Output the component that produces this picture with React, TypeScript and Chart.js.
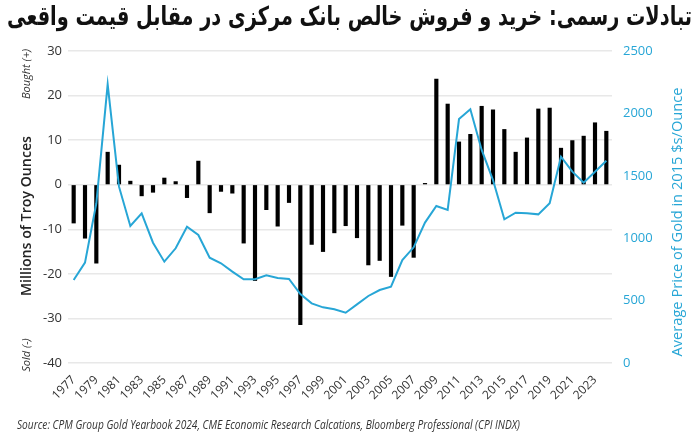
import React, { useEffect, useRef } from "react";
import { Chart, registerables } from "chart.js";

Chart.register(...registerables);

const TITLE = "تبادلات رسمی: خرید و فروش خالص بانک مرکزی در مقابل قیمت واقعی";
const SOURCE =
  "Source: CPM Group Gold Yearbook 2024, CME Economic Research Calcations, Bloomberg Professional (CPI INDX)";
const LEFT_TITLE = "Millions of Troy Ounces";
const RIGHT_TITLE = "Average Price of Gold in 2015 $s/Ounce";
const BOUGHT = "Bought (+)";
const SOLD = "Sold (-)";

const years = [
  "1977", "1978", "1979", "1980", "1981", "1982", "1983", "1984", "1985", "1986",
  "1987", "1988", "1989", "1990", "1991", "1992", "1993", "1994", "1995", "1996",
  "1997", "1998", "1999", "2000", "2001", "2002", "2003", "2004", "2005", "2006",
  "2007", "2008", "2009", "2010", "2011", "2012", "2013", "2014", "2015", "2016",
  "2017", "2018", "2019", "2020", "2021", "2022", "2023", "2024",
];

// Net official purchases (+) / sales (-), millions of troy ounces
const netOfficial = [
  -8.6, -12.0, -17.6, 7.3, 4.4, 0.8, -2.5, -1.7, 1.5, 0.7,
  -2.9, 5.3, -6.3, -1.5, -1.9, -13.1, -21.5, -5.6, -9.3, -4.0,
  -31.4, -13.4, -15.0, -10.8, -9.2, -11.9, -18.0, -17.0, -20.6, -9.1,
  -16.3, 0.3, 23.7, 18.1, 9.6, 11.3, 17.6, 16.8, 12.4, 7.3,
  10.5, 17.0, 17.2, 8.2, 9.9, 10.9, 13.9, 12.0,
];

// Average gold price, 2015 $/oz
const goldPrice = [
  665, 804, 1280, 2233, 1413, 1098, 1199, 964, 812, 919,
  1092, 1026, 844, 799, 732, 671, 671, 703, 681, 673,
  553, 478, 446, 430, 403, 470, 537, 585, 611, 825,
  927, 1125, 1258, 1226, 1955, 2033, 1707, 1466, 1151, 1204,
  1199, 1191, 1280, 1653, 1533, 1445, 1533, 1621,
];

const leftMin = -40;
const leftMax = 30;
const leftStep = 10;
const rightMin = 0;
const rightMax = 2500;
const rightStep = 500;

const BLUE = "#27a6d6";
const TEXT = "#333333";
const GRID = "#e8e8e8";

function fitText(ctx: any, text: string, x: number, y: number, targetW: number) {
  const w = ctx.measureText(text).width;
  const sx = targetW / w;
  ctx.save();
  ctx.translate(x, y);
  ctx.scale(sx, 1);
  ctx.fillText(text, 0, 0);
  ctx.restore();
}

const overlayPlugin = {
  id: "overlay",
  afterDraw(chart: any) {
    const { ctx, chartArea } = chart;
    const midY = (chartArea.top + chartArea.bottom) / 2;
    ctx.save();

    // Title (Persian)
    ctx.fillStyle = "#111111";
    ctx.textBaseline = "middle";
    ctx.direction = "rtl";
    ctx.textAlign = "right";
    ctx.font = `bold 26px "DejaVu Sans"`;
    fitText(ctx, TITLE, 692, 18, 685);
    ctx.direction = "ltr";

    // Source
    ctx.textAlign = "left";
    ctx.fillStyle = TEXT;
    ctx.font = `italic 12px "Open Sans"`;
    fitText(ctx, SOURCE, 17, 426, 503);

    // Left title
    ctx.save();
    ctx.translate(27, midY + 9);
    ctx.rotate(-Math.PI / 2);
    ctx.textAlign = "center";
    ctx.fillStyle = "#222222";
    ctx.font = `600 15px "Open Sans"`;
    fitText(ctx, LEFT_TITLE, 0, 0, 160);
    ctx.restore();

    // Bought / Sold
    ctx.save();
    ctx.translate(27, chartArea.top + 23);
    ctx.rotate(-Math.PI / 2);
    ctx.textAlign = "center";
    ctx.fillStyle = TEXT;
    ctx.font = `italic 11px "Open Sans"`;
    ctx.fillText(BOUGHT, 0, 0);
    ctx.restore();

    ctx.save();
    ctx.translate(27, chartArea.bottom - 8);
    ctx.rotate(-Math.PI / 2);
    ctx.textAlign = "center";
    ctx.fillStyle = TEXT;
    ctx.font = `italic 11px "Open Sans"`;
    ctx.fillText(SOLD, 0, 0);
    ctx.restore();

    // Right title
    ctx.save();
    ctx.translate(678, midY + 15);
    ctx.rotate(-Math.PI / 2);
    ctx.textAlign = "center";
    ctx.fillStyle = BLUE;
    ctx.font = `500 15px "Open Sans"`;
    fitText(ctx, RIGHT_TITLE, 0, 0, 269);
    ctx.restore();

    ctx.restore();
  },
};

export default function App() {
  const canvasRef = useRef<HTMLCanvasElement | null>(null);

  useEffect(() => {
    if (!canvasRef.current) return;
    const chart = new Chart(canvasRef.current, {
      type: "bar",
      data: {
        labels: years,
        datasets: [
          {
            type: "line",
            label: "Gold price",
            data: goldPrice,
            yAxisID: "y1",
            borderColor: BLUE,
            backgroundColor: BLUE,
            borderWidth: 2,
            pointRadius: 0,
            tension: 0,
            order: 0,
          } as any,
          {
            type: "bar",
            label: "Net official transactions",
            data: netOfficial,
            yAxisID: "y",
            backgroundColor: "#000000",
            barThickness: 3.5,
            order: 1,
          } as any,
        ],
      },
      options: {
        responsive: true,
        maintainAspectRatio: false,
        animation: false,
        layout: { padding: { top: 51, left: 0, right: 0, bottom: 0 } },
        plugins: {
          legend: { display: false },
          tooltip: { enabled: false },
          title: { display: false },
        },
        scales: {
          x: {
            grid: { display: false, drawTicks: false },
            border: { display: false },
            ticks: {
              color: TEXT,
              font: { family: "Open Sans", size: 12 },
              minRotation: 45,
              maxRotation: 45,
              autoSkip: true,
              autoSkipPadding: 0,
              padding: 10,
              callback: function (this: any, _v: any, i: number) {
                return i % 2 === 0 ? years[i] : null;
              },
            },
            afterFit(scale: any) {
              scale.height = 84;
            },
          },
          y: {
            position: "left",
            min: leftMin,
            max: leftMax,
            grid: { color: GRID, drawTicks: false, lineWidth: 1.5 },
            border: { display: false },
            ticks: {
              stepSize: leftStep,
              color: TEXT,
              font: { family: "Open Sans", size: 13 },
              padding: 6,
            },
            afterFit(scale: any) {
              scale.width = 68;
            },
          },
          y1: {
            position: "right",
            min: rightMin,
            max: rightMax,
            grid: { display: false, drawTicks: false },
            border: { display: false },
            ticks: {
              stepSize: rightStep,
              color: BLUE,
              font: { family: "Open Sans", size: 13 },
              padding: 11,
              callback: (v: any) => String(v),
            },
            afterFit(scale: any) {
              scale.width = 88;
            },
          },
        },
      },
      plugins: [overlayPlugin],
    });
    return () => chart.destroy();
  }, []);

  return (
    <div
      style={{
        position: "fixed",
        left: 0,
        top: 0,
        width: 700,
        height: 447,
        background: "#ffffff",
      }}
    >
      <canvas ref={canvasRef} />
    </div>
  );
}
